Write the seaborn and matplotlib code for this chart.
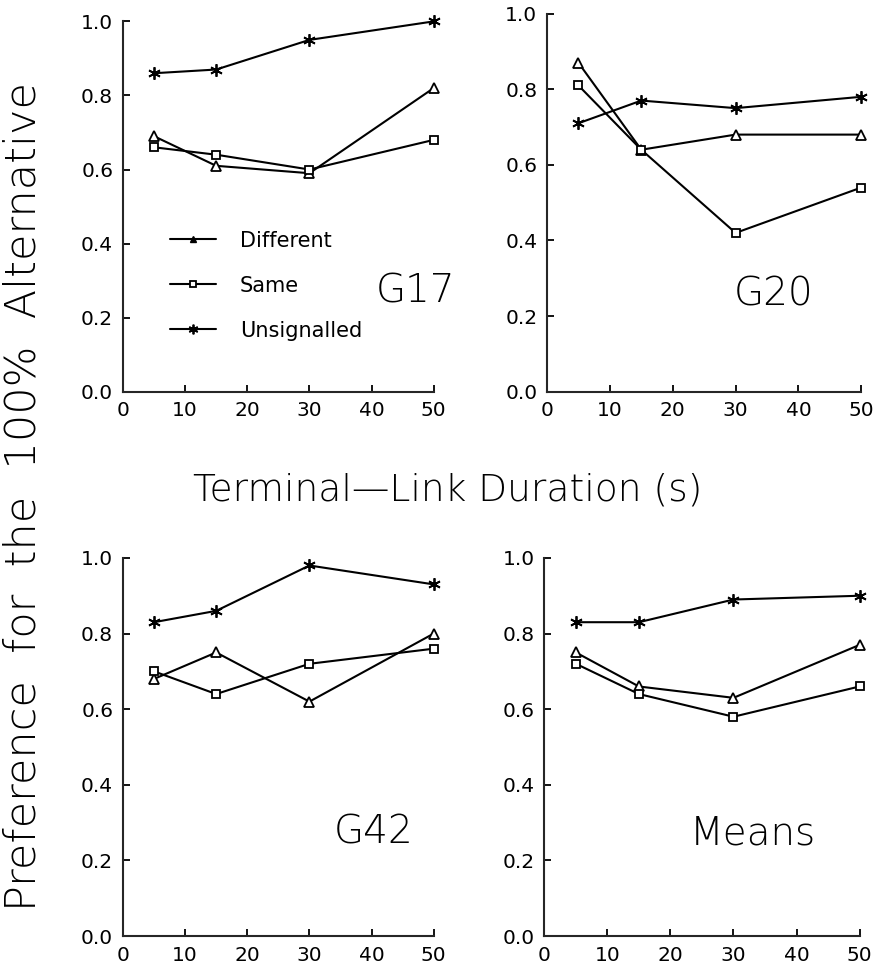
import pandas as pd
import matplotlib
matplotlib.use("Agg")
import matplotlib.pyplot as plt
import seaborn as sns
from matplotlib.lines import Line2D

# Data

durations = [5, 15, 30, 50]
conditions = ["Different", "Same", "Unsignalled"]
panels = ["G17", "G20", "G42", "Means"]

g17_different = [0.69, 0.61, 0.59, 0.82]
g17_same = [0.66, 0.64, 0.60, 0.68]
g17_unsignalled = [0.86, 0.87, 0.95, 1.00]

g20_different = [0.87, 0.64, 0.68, 0.68]
g20_same = [0.81, 0.64, 0.42, 0.54]
g20_unsignalled = [0.71, 0.77, 0.75, 0.78]

g42_different = [0.68, 0.75, 0.62, 0.80]
g42_same = [0.70, 0.64, 0.72, 0.76]
g42_unsignalled = [0.83, 0.86, 0.98, 0.93]

means_different = [0.75, 0.66, 0.63, 0.77]
means_same = [0.72, 0.64, 0.58, 0.66]
means_unsignalled = [0.83, 0.83, 0.89, 0.90]

series = {
    "G17": [g17_different, g17_same, g17_unsignalled],
    "G20": [g20_different, g20_same, g20_unsignalled],
    "G42": [g42_different, g42_same, g42_unsignalled],
    "Means": [means_different, means_same, means_unsignalled],
}

# Build long table

rows = []
for panel in panels:
    for cond, vals in zip(conditions, series[panel]):
        for d, v in zip(durations, vals):
            rows.append({"panel": panel, "condition": cond, "duration": d, "preference": v})
df = pd.DataFrame(rows)

sns.set_theme(style="ticks")
plt.rcParams["font.family"] = ["DejaVu Sans"]
plt.rcParams["text.color"] = "black"
plt.rcParams["axes.labelcolor"] = "black"

fig = plt.figure(figsize=(8.78, 9.72), dpi=100)

# panel boxes in figure fractions
boxes = {
    "G17": [0.140, 0.597, 0.354, 0.381],
    "G20": [0.623, 0.597, 0.358, 0.389],
    "G42": [0.140, 0.037, 0.354, 0.389],
    "Means": [0.620, 0.037, 0.359, 0.389],
}
label_pos = {"G17": (47, 0.27), "G20": (36, 0.257), "G42": (40.4, 0.275), "Means": (33, 0.272)}

markers = {"Different": "^", "Same": "s", "Unsignalled": (6, 2, 0)}
sizes = {"Different": 7, "Same": 5.5, "Unsignalled": 9}

for panel in panels:
    ax = fig.add_axes(boxes[panel])
    sub = df[df["panel"] == panel]
    for cond in conditions:
        sns.lineplot(
            data=sub[sub["condition"] == cond],
            x="duration",
            y="preference",
            ax=ax,
            color="black",
            linewidth=1.5,
            marker=markers[cond],
            markersize=sizes[cond],
            markerfacecolor="white",
            markeredgecolor="black",
            markeredgewidth=1.3,
            legend=False,
            errorbar=None,
        )
    ax.set_xlim(0, 50)
    ax.set_ylim(0, 1.0)
    ax.set_xticks([0, 10, 20, 30, 40, 50])
    ax.set_yticks([0.0, 0.2, 0.4, 0.6, 0.8, 1.0])
    ax.set_yticklabels(["0.0", "0.2", "0.4", "0.6", "0.8", "1.0"])
    ax.spines["top"].set_visible(False)
    ax.spines["right"].set_visible(False)
    ax.spines["left"].set_linewidth(1.5)
    ax.spines["bottom"].set_linewidth(1.5)
    ax.tick_params(direction="in", length=5, width=1.3, labelsize=14.5, colors="black", pad=7)
    ax.set_xlabel("")
    ax.set_ylabel("")
    for line in ax.lines:
        line.set_clip_on(False)
    lx, ly = label_pos[panel]
    ax.text(lx, ly, panel, ha="center", va="center", fontsize=28, fontweight="light")

    if panel == "G17":
        handles = [
            Line2D([], [], color="black", linewidth=1.5, marker="^", markersize=5),
            Line2D([], [], color="black", linewidth=1.5, marker="s", markersize=4,
                   markerfacecolor="white", markeredgewidth=1.3),
            Line2D([], [], color="black", linewidth=1.5, marker=(6, 2, 0), markersize=7,
                   markeredgewidth=1.3),
        ]
        ax.legend(handles, conditions, loc="upper left", bbox_to_anchor=(0.151, 0.435),
                  frameon=False, fontsize=15, labelspacing=1.2, handlelength=2.2,
                  handletextpad=1.15, borderpad=0, borderaxespad=0)

fig.text(0.51, 0.496, "Terminal\u2014Link Duration (s)", ha="center", va="center",
         fontsize=27, fontweight="light")
fig.text(0.026, 0.489, "Preference  for  the  100%  Alternative", ha="center", va="center",
         rotation=90, fontsize=31, fontweight="light")

fig.savefig("out.png", dpi=100)
